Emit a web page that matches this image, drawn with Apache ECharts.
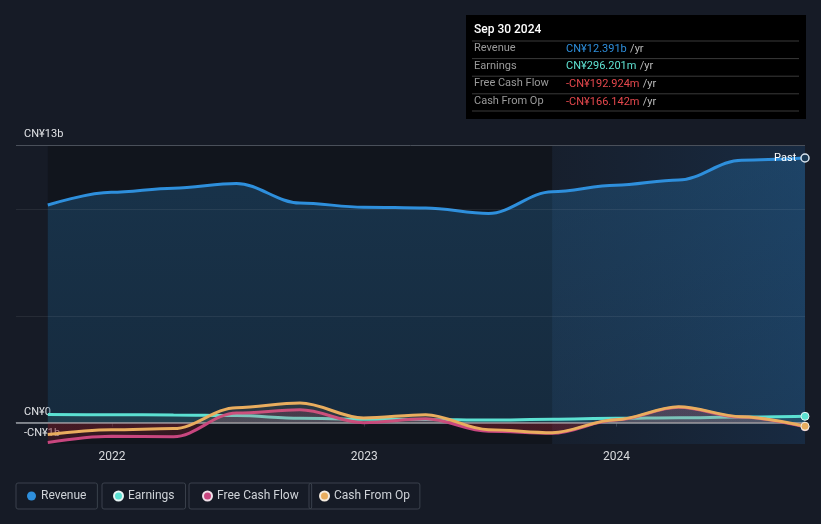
<!DOCTYPE html>
<html>
<head>
<meta charset="utf-8">
<script src="https://cdn.jsdelivr.net/npm/echarts@6/dist/echarts.min.js"></script>
<style>
  html, body { margin: 0; padding: 0; background: #161b26; }
  #main { width: 821px; height: 524px; }
</style>
</head>
<body>
<div id="main"></div>
<script>
// quarter ends, CN¥ billions
var dates = ["2021-09-30", "2021-12-31", "2022-03-31", "2022-06-30", "2022-09-30", "2022-12-31",
  "2023-03-31", "2023-06-30", "2023-09-30", "2023-12-31", "2024-03-31", "2024-06-30", "2024-09-30"];
var revenue = [10.19, 10.79, 10.98, 11.2, 10.28, 10.09, 10.05, 9.79, 10.81, 11.12, 11.36, 12.29, 12.391];
var earnings = [0.38, 0.37, 0.36, 0.33, 0.2, 0.16, 0.15, 0.12, 0.16, 0.2, 0.23, 0.26, 0.296];
var freeCashFlow = [-0.93, -0.64, -0.66, 0.45, 0.6, 0.0, 0.18, -0.4, -0.5, 0.12, 0.72, 0.26, -0.193];
var cashFromOp = [-0.56, -0.33, -0.28, 0.7, 0.92, 0.22, 0.37, -0.33, -0.47, 0.14, 0.75, 0.28, -0.166];
var yTickLabels = [-1, 0, 13];
var yGridLines = [5, 10];
var pastStart = "2023-09-30";

var tipTitle = "Sep 30 2024";
var tipRows = [
  ["Revenue", "CN¥12.391b", "#2e8fdc"],
  ["Earnings", "CN¥296.201m", "#5fe3d3"],
  ["Free Cash Flow", "-CN¥192.924m", "#e5484d"],
  ["Cash From Op", "-CN¥166.142m", "#e5484d"]
];

var colors = {
  revenue: "#2e8fdc",
  earnings: "#5ce1d2",
  fcf: "#c8467f",
  cfo: "#e9ad5e"
};

function pairs(vals) {
  return vals.map(function (v, i) { return [dates[i], v]; });
}
var last = dates.length - 1;
function endDot(value, params) {
  return params.dataIndex === last ? "circle" : "none";
}

var chart = echarts.init(document.getElementById("main"));

// tooltip-like box top right
var tipGraphics = [
  { type: "rect", left: 466, top: 15, shape: { width: 340, height: 104 }, style: { fill: "#000" } },
  { type: "text", left: 474, top: 24, style: { text: tipTitle, fill: "#fff", font: "500 12px Roboto, sans-serif" } }
];
tipRows.forEach(function (r, i) {
  var y = 41 + i * 17.6;
  tipGraphics.push({ type: "line", shape: { x1: 472, y1: y, x2: 799, y2: y }, style: { stroke: "#3a3a3a", lineWidth: 1 } });
  tipGraphics.push({ type: "text", left: 474, top: y + 2, style: { text: r[0], fill: "#9a9a9a", font: "11px Roboto, sans-serif" } });
  tipGraphics.push({
    type: "text", left: 566, top: y + 2,
    style: {
      text: "{v|" + r[1] + "} {u|/yr}",
      rich: {
        v: { fill: r[2], font: "11px Roboto, sans-serif" },
        u: { fill: "#bbbbbb", font: "11px Roboto, sans-serif" }
      }
    }
  });
});
tipGraphics.push({ type: "line", shape: { x1: 472, y1: 111, x2: 799, y2: 111 }, style: { stroke: "#3a3a3a", lineWidth: 1 } });

var legendNames = ["Revenue", "Earnings", "Free Cash Flow", "Cash From Op"];
var legendLeft = [16, 102, 189, 309];
var legendPad = [11, 11, 13, 10];
var legends = legendNames.map(function (n, i) {
  return {
    data: [n],
    left: legendLeft[i],
    top: 483,
    icon: "circle",
    itemWidth: 9,
    itemHeight: 9,
    itemGap: 6,
    padding: [7, legendPad[i], 7, legendPad[i]],
    borderColor: "#3a414c",
    borderWidth: 1,
    borderRadius: 2,
    selectedMode: false,
    textStyle: { color: "#cfd3d8", fontSize: 12, fontFamily: "Roboto, sans-serif" }
  };
});

function buildOption(cashFills) {
  return {
    backgroundColor: "#161b26",
    animation: false,
    graphic: tipGraphics,
    legend: legends,
    grid: { left: 16, right: 16, top: 145, bottom: 80 },
    xAxis: {
      type: "time",
      min: "2021-08-15",
      max: "2024-09-30",
      minInterval: 365 * 86400000,
      axisLine: { show: true, lineStyle: { color: "#3c434e" } },
      axisTick: { show: true, length: 4, lineStyle: { color: "#3c434e" } },
      axisLabel: {
        color: "#d8dadd", fontSize: 12, margin: 7, fontFamily: "Roboto, sans-serif",
        formatter: function (v) {
          var d = new Date(v);
          return (d.getMonth() === 0 && d.getDate() === 1) ? String(d.getFullYear()) : "";
        }
      },
      splitLine: { show: false }
    },
    yAxis: {
      type: "value",
      min: -1,
      max: 13,
      axisLine: { show: false },
      axisTick: { show: false },
      splitLine: { show: false },
      axisLabel: {
        inside: true,
        margin: 8,
        verticalAlign: "bottom",
        padding: [0, 0, 5, 0],
        color: "#e0e2e5",
        fontSize: 11,
        fontFamily: "Roboto, sans-serif",
        customValues: yTickLabels,
        formatter: function (v) {
          if (v === 0) return "CN¥0";
          return (v < 0 ? "-CN¥" : "CN¥") + Math.abs(v) + "b";
        }
      }
    },
    series: [
      {
        name: "Revenue",
        type: "line",
        z: 2,
        data: pairs(revenue),
        smooth: 0.35,
        smoothMonotone: "x",
        showSymbol: false,
        symbol: "none",
        color: colors.revenue,
        lineStyle: { width: 3, color: colors.revenue },
        areaStyle: {
          color: new echarts.graphic.LinearGradient(0, 0, 0, 1, [
            { offset: 0, color: "rgba(45,140,210,0.36)" },
            { offset: 1, color: "rgba(45,140,210,0.26)" }
          ])
        },
        markArea: {
          silent: true,
          data: [
            [{ xAxis: dates[0], itemStyle: { color: "rgba(0,0,0,0.22)" } }, { xAxis: pastStart }],
            [{
              xAxis: pastStart,
              itemStyle: {
                color: new echarts.graphic.LinearGradient(0, 0, 1, 0, [
                  { offset: 0, color: "rgba(30,80,130,0.08)" },
                  { offset: 1, color: "rgba(30,90,150,0.25)" }
                ])
              }
            }, { xAxis: dates[last] }]
          ]
        },
        markLine: {
          silent: true,
          symbol: "none",
          label: { show: false },
          data: [
            { yAxis: 13, lineStyle: { color: "#4a505a", width: 1, type: "solid" } },
            { yAxis: yGridLines[0], lineStyle: { color: "rgba(255,255,255,0.07)", width: 1, type: "solid" } },
            { yAxis: yGridLines[1], lineStyle: { color: "rgba(255,255,255,0.07)", width: 1, type: "solid" } },
            { yAxis: 0, lineStyle: { color: "#9a9ea4", width: 1.5, type: "solid" } }
          ]
        },
        markPoint: {
          silent: true,
          symbol: "circle",
          symbolSize: 8,
          itemStyle: { color: "#1b3a55", borderColor: "#d8e4ee", borderWidth: 1.5 },
          label: { show: true, position: "left", distance: 4, formatter: "Past", color: "#fff", fontSize: 11, fontFamily: "Roboto, sans-serif" },
          data: [{ coord: [dates[last], revenue[last]] }]
        }
      },
      {
        name: "Earnings",
        type: "line",
        z: 4,
        data: pairs(earnings),
        smooth: 0.35,
        smoothMonotone: "x",
        symbol: endDot,
        symbolSize: 8,
        color: colors.earnings,
        itemStyle: { color: colors.earnings, borderColor: "#e8f4f4", borderWidth: 1 },
        lineStyle: { width: 3, color: colors.earnings },
        areaStyle: { color: "rgba(92,225,210,0.18)" }
      },
      {
        name: "Free Cash Flow",
        type: "line",
        z: 5,
        data: pairs(freeCashFlow),
        smooth: 0.35,
        smoothMonotone: "x",
        symbol: endDot,
        symbolSize: 8,
        color: colors.fcf,
        itemStyle: { color: colors.fcf, borderColor: "#f0e0e8", borderWidth: 1 },
        lineStyle: { width: 3, color: colors.fcf },
        areaStyle: { color: cashFills ? cashFills[0] : "rgba(200,70,127,0.2)" }
      },
      {
        name: "Cash From Op",
        type: "line",
        z: 6,
        data: pairs(cashFromOp),
        smooth: 0.35,
        smoothMonotone: "x",
        symbol: endDot,
        symbolSize: 8,
        color: colors.cfo,
        itemStyle: { color: colors.cfo, borderColor: "#f5ece0", borderWidth: 1 },
        lineStyle: { width: 3, color: colors.cfo },
        areaStyle: { color: cashFills ? cashFills[1] : "rgba(233,173,94,0.15)" }
      }
    ]
  };
}
chart.setOption(buildOption(null));

// negative part of the cash flow fills drawn in red: split a global gradient at the zero line
var pxTop = chart.convertToPixel({ yAxisIndex: 0 }, 13);
var pxZero = chart.convertToPixel({ yAxisIndex: 0 }, 0);
var pxBottom = chart.convertToPixel({ yAxisIndex: 0 }, -1);
function zeroSplit(above, below) {
  var f = (pxZero - pxTop) / (pxBottom - pxTop);
  return {
    type: "linear", x: 0, y: pxTop, x2: 0, y2: pxBottom, global: true,
    colorStops: [
      { offset: 0, color: above }, { offset: f - 0.001, color: above },
      { offset: f, color: below }, { offset: 1, color: below }
    ]
  };
}
chart.setOption(buildOption([
  zeroSplit("rgba(200,70,127,0.25)", "rgba(175,35,50,0.32)"),
  zeroSplit("rgba(233,173,94,0.14)", "rgba(175,35,50,0.18)")
]), true);
</script>
</body>
</html>
